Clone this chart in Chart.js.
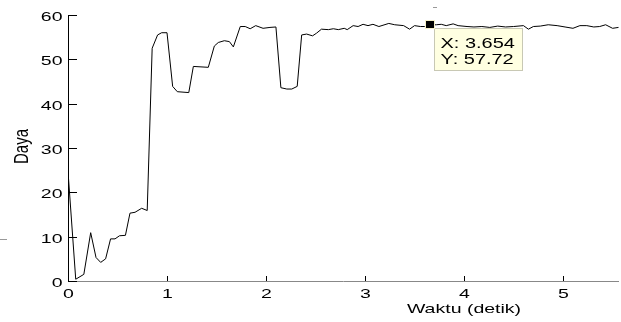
<!DOCTYPE html>
<html>
<head>
<meta charset="utf-8">
<script src="https://cdn.jsdelivr.net/npm/chart.js@4/dist/chart.umd.min.js"></script>
<style>
  body { margin: 0; background: #fff; }
  canvas { display: block; }
</style>
</head>
<body>
<canvas id="grafik" width="621" height="322"></canvas>
<script>
// data
const waktu = [0, 0.078, 0.16, 0.229, 0.283, 0.33, 0.38, 0.43, 0.475, 0.52, 0.58, 0.626, 0.677, 0.744, 0.80,
  0.85, 0.905, 0.946, 1.0, 1.057, 1.104, 1.22, 1.266, 1.417, 1.478, 1.518, 1.579, 1.63, 1.67, 1.74, 1.79,
  1.84, 1.896, 1.97, 2.04, 2.10, 2.15, 2.21, 2.26, 2.315, 2.36, 2.41, 2.47, 2.51, 2.56, 2.63, 2.68, 2.73,
  2.79, 2.82, 2.88, 2.93, 2.98, 3.03, 3.08, 3.14, 3.24, 3.30, 3.39, 3.45, 3.50, 3.56, 3.60, 3.654, 3.72,
  3.77, 3.82, 3.89, 3.94, 4.03, 4.10, 4.18, 4.26, 4.34, 4.42, 4.50, 4.60, 4.65, 4.70, 4.77, 4.85, 4.94,
  5.02, 5.10, 5.17, 5.24, 5.31, 5.37, 5.43, 5.50, 5.56];
const daya = [24.7, 0.4, 1.5, 10.9, 5.3, 4.2, 5.0, 9.5, 9.5, 10.2, 10.3, 15.3, 15.5, 16.4, 15.9,
  52.5, 55.5, 56.0, 56.0, 43.9, 42.7, 42.5, 48.4, 48.2, 53.0, 53.8, 54.2, 54.0, 52.8, 57.4, 57.4,
  56.9, 57.6, 57.0, 57.2, 57.3, 43.6, 43.3, 43.3, 43.9, 55.5, 55.7, 55.3, 55.9, 56.8, 56.7, 56.9, 56.7,
  57.0, 56.7, 57.6, 57.4, 57.9, 57.6, 57.9, 57.4, 58.1, 57.8, 57.6, 56.8, 57.6, 57.4, 57.4, 57.72, 57.8,
  57.9, 57.6, 58.0, 57.6, 57.4, 57.3, 57.4, 57.2, 57.5, 57.3, 57.4, 57.6, 56.8, 57.4, 57.5, 57.8, 57.6,
  57.3, 57.0, 57.6, 57.6, 57.3, 57.4, 57.8, 57.0, 57.2];
const tickX = [0, 1, 2, 3, 4, 5];
const tickY = [0, 10, 20, 30, 40, 50, 60];
const tipX = 3.654;
const tipY = 57.72;

const FONT = '"Liberation Sans", Arial, sans-serif';

// teks melebar seperti figure matlab yang di-resize
function teks(ctx, str, px, py, align, size, sx) {
  ctx.save();
  ctx.translate(px, py);
  ctx.scale(sx, 1);
  ctx.font = size + 'px ' + FONT;
  ctx.textAlign = align;
  ctx.textBaseline = 'alphabetic';
  ctx.fillStyle = '#000';
  ctx.fillText(str, 0, 0);
  ctx.restore();
}

const sumbu = {
  id: 'sumbu',
  beforeDatasetsDraw(chart) {
    const { ctx, chartArea: a } = chart;
    ctx.save();
    ctx.lineWidth = 1;
    ctx.strokeStyle = '#888';
    ctx.beginPath();
    ctx.moveTo(a.left, a.bottom + 0.5);
    ctx.lineTo(a.right, a.bottom + 0.5);
    ctx.stroke();
    ctx.strokeStyle = '#000';
    ctx.beginPath();
    ctx.moveTo(a.left + 0.5, a.top);
    ctx.lineTo(a.left + 0.5, a.bottom + 1);
    ctx.stroke();
    ctx.restore();
  },
  afterDraw(chart) {
    const { ctx, chartArea: a, scales: { x, y } } = chart;
    ctx.save();
    ctx.strokeStyle = '#000';
    ctx.lineWidth = 1;
    tickY.forEach(v => {
      const py = Math.round(y.getPixelForValue(v)) + 0.5;
      ctx.beginPath();
      ctx.moveTo(a.left, py);
      ctx.lineTo(a.left + 9, py);
      ctx.stroke();
      teks(ctx, String(v), a.left - 5.5, py + 5.5, 'right', 13, 1.5);
    });
    tickX.forEach(v => {
      const px = Math.round(x.getPixelForValue(v)) + 0.5;
      if (v > 0) {
        ctx.beginPath();
        ctx.moveTo(px, a.bottom);
        ctx.lineTo(px, a.bottom - 5);
        ctx.stroke();
      }
      teks(ctx, String(v), px, a.bottom + 17, 'center', 13, 1.5);
    });

    // judul sumbu
    teks(ctx, 'Waktu (detik)', 464, 313, 'center', 13, 1.5);
    ctx.save();
    ctx.translate(28, 146.5);
    ctx.rotate(-Math.PI / 2);
    ctx.scale(1, 1.3);
    ctx.font = '15px ' + FONT;
    ctx.textAlign = 'center';
    ctx.fillStyle = '#000';
    ctx.fillText('Daya', 0, 0);
    ctx.restore();

    // garis kecil sisa
    ctx.strokeStyle = '#999';
    ctx.beginPath();
    ctx.moveTo(0, 239.5); ctx.lineTo(7, 239.5);
    ctx.moveTo(433, 7.5); ctx.lineTo(437, 7.5);
    ctx.stroke();

    // data tip
    const mx = x.getPixelForValue(tipX);
    const my = y.getPixelForValue(tipY);
    const bx = Math.round(mx + 4.5) + 0.5, by = Math.round(my + 3) + 0.5;
    ctx.fillStyle = '#ffffe1';
    ctx.strokeStyle = '#c8c8b4';
    ctx.fillRect(bx, by, 88, 42);
    ctx.strokeRect(bx, by, 88, 42);
    teks(ctx, 'X: ' + tipX, bx + 6, by + 19.5, 'left', 15, 1.33);
    teks(ctx, 'Y: ' + tipY, bx + 6, by + 35.5, 'left', 15, 1.33);
    ctx.fillStyle = '#f5f0c8';
    ctx.fillRect(Math.round(mx) - 5, Math.round(my) - 5, 10, 9);
    ctx.fillStyle = '#000';
    ctx.fillRect(Math.round(mx) - 4, Math.round(my) - 4, 8, 7);
    ctx.restore();
  }
};

new Chart(document.getElementById('grafik'), {
  type: 'line',
  data: {
    datasets: [{
      data: waktu.map((t, i) => ({ x: t, y: daya[i] })),
      borderColor: '#000',
      borderWidth: 1,
      pointRadius: 0,
      tension: 0,
      fill: false
    }]
  },
  options: {
    responsive: false,
    animation: false,
    layout: { padding: { top: 15, right: 2, left: 0, bottom: 0 } },
    plugins: { legend: { display: false }, tooltip: { enabled: false } },
    scales: {
      x: {
        type: 'linear', min: 0, max: 5.565,
        grid: { display: false }, border: { display: false },
        ticks: { display: false },
        afterFit(s) { s.height = 41; }
      },
      y: {
        min: 0, max: 60,
        grid: { display: false }, border: { display: false },
        ticks: { display: false },
        afterFit(s) { s.width = 68; }
      }
    }
  },
  plugins: [sumbu]
});
</script>
</body>
</html>
